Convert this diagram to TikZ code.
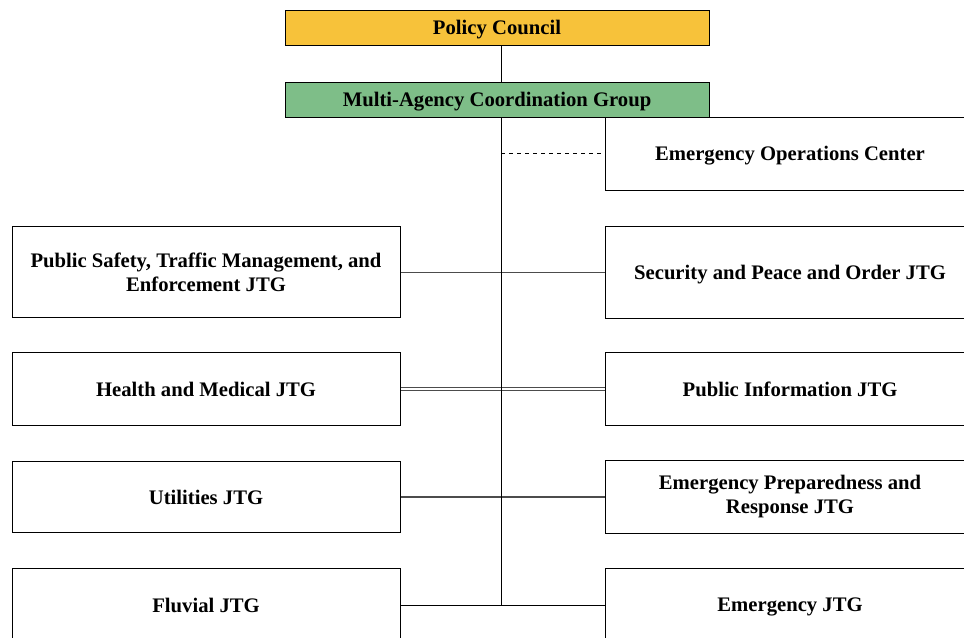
\documentclass[tikz,border=0pt]{standalone}
\usepackage{fontspec}
\setmainfont{Liberation Serif}
\definecolor{councilyellow}{RGB}{247,194,58}
\definecolor{groupgreen}{RGB}{126,190,136}
\tikzset{every picture/.style={line width=0.75pt}}
\tikzset{
  orgbox/.style={draw, rectangle, inner sep=2pt, align=center, text depth=0pt, font=\bfseries\fontsize{15.5}{18}\selectfont},
  twoline/.style={text depth=},
  jtgbox/.style={orgbox, minimum width=291pt, minimum height=54.75pt},
  jtglink/.style={draw=black!70},
}

\begin{document}
\begin{tikzpicture}[x=0.75pt,y=0.75pt,yscale=-1,xscale=1]
\useasboundingbox (0,0) rectangle (964,637);

%Shape: Rectangle [id:pc]
\node[orgbox, fill=councilyellow, minimum width=318pt, minimum height=26.25pt] (pc) at (497,27.5) {Policy Council};
%Shape: Rectangle [id:macg]
\node[orgbox, fill=groupgreen, minimum width=318pt, minimum height=26.25pt] (macg) at (497,99.5) {Multi-Agency Coordination Group};
%Shape: Rectangle [id:eoc]
\node[orgbox, minimum width=277.5pt, minimum height=54.75pt] (eoc) at (790,153.5) {Emergency Operations Center};

% left column
\node[jtgbox, twoline, minimum height=68.25pt] (pst) at (206,272) {Public Safety, Traffic Management, and\\Enforcement JTG};
\node[jtgbox] (hm) at (206,389) {Health and Medical JTG};
\node[jtgbox, minimum height=53.25pt] (ut) at (206,497) {Utilities JTG};
\node[jtgbox] (fl) at (206,605) {Fluvial JTG};

% right column
\node[jtgbox, minimum width=277.5pt, minimum height=69pt] (spo) at (790,272) {Security and Peace and Order JTG};
\node[jtgbox, minimum width=277.5pt] (pi) at (790,389) {Public Information JTG};
\node[jtgbox, twoline, minimum width=277.5pt] (epr) at (790,497) {Emergency Preparedness and\\Response JTG};
\node[jtgbox, minimum width=277.5pt] (em) at (790,605) {Emergency JTG};

% links between the columns
\draw [jtglink] (pst.east) -- (spo.west) ;
\draw [jtglink, double, double distance=1.5pt, line width=0.5pt] (hm.east) -- (pi.west) ;
\draw [jtglink, line width=1.2pt] (ut.east) -- (epr.west) ;
\draw (fl.east) -- (em.west) ;

%Straight Lines [id:spine]
\coordinate (spine) at (501,117);
\draw (pc.south -| spine) -- (macg.north -| spine) ;
\draw (macg.south -| spine) -- (spine |- fl.east) ;
\draw [dashed] (spine |- eoc.west) -- (eoc.west) ;

\end{tikzpicture}
\end{document}
